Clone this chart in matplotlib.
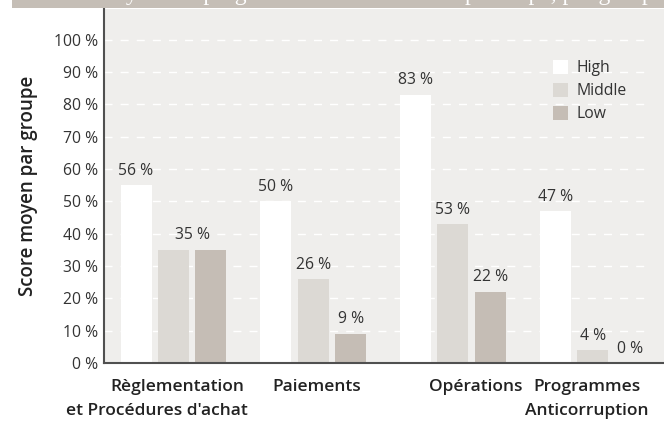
import matplotlib
matplotlib.use("Agg")
from matplotlib import pyplot as plt
from matplotlib.patches import Rectangle

# Chart data (bar heights as drawn, labels as printed)
categories = ["Règlementation\net Procédures d'achat", "Paiements", "Opérations", "Programmes\nAnticorruption"]
groups = ["High", "Middle", "Low"]
high = [55, 50, 83, 47]
middle = [35, 26, 43, 4]
low = [35, 9, 22, 0]
high_labels = ["56 %", "50 %", "83 %", "47 %"]
middle_labels = ["35 %", "26 %", "53 %", "4 %"]
low_labels = ["", "9 %", "22 %", "0 %"]
yticks = [0, 10, 20, 30, 40, 50, 60, 70, 80, 90, 100]
title = "Score moyen des programmes de conformité par étape, par groupe"

# Colors
bg = "#efeeec"
colors = ["#ffffff", "#dcd9d4", "#c5bdb5"]
band = "#c5beb6"
txt = "#333333"

plt.rcParams["font.family"] = ["Open Sans", "DejaVu Sans"]

fig = plt.figure(figsize=(6.64, 4.22), dpi=100)
fig.patch.set_facecolor("white")

# Gray title band at top, mostly cut off
fig.patches.append(Rectangle((12 / 664, 414 / 422), 1, 1, transform=fig.transFigure,
                             facecolor=band, edgecolor="none", zorder=0))
fig.text(1.0, 1.0, title, ha="right", va="baseline", color="white",
         family="Liberation Serif", fontsize=17)

ax = fig.add_axes([104 / 664, 59 / 422, 560 / 664, 354.5 / 422])
ax.set_facecolor(bg)

step = 0.268
width = 0.222
xs = list(range(len(categories)))

# Dashed white gridlines
ax.hlines(yticks[1:], -0.4975, 3.382, colors="white", linewidth=1,
          linestyles=(0, (5.8, 5.8)), zorder=1)

series = [high, middle, low]
for j, (vals, col) in enumerate(zip(series, colors)):
    pos = [x + (j - 1) * step for x in xs]
    ax.bar(pos, vals, width=width, color=col, zorder=2, label=groups[j])

# Value labels
fs = 11.3
for i in xs:
    ax.text(i - step, high[i] + 2, high_labels[i], ha="center", va="bottom",
            fontsize=fs, color=txt)
    if i == 0:
        # single label shared by Middle and Low
        ax.text(i + step / 2, middle[i] + 2, middle_labels[i], ha="center",
                va="bottom", fontsize=fs, color=txt)
    else:
        ax.text(i, middle[i] + 2, middle_labels[i], ha="center", va="bottom",
                fontsize=fs, color=txt)
        ax.text(i + step, low[i] + 2, low_labels[i], ha="center", va="bottom",
                fontsize=fs, color=txt)

ax.set_xlim(-0.4975, 3.511)
ax.set_ylim(0, 109.7)
ax.set_yticks(yticks)
ax.set_yticklabels([f"{v} %" for v in yticks], fontsize=fs, color=txt)
ax.tick_params(axis="y", length=0, pad=4)
ax.set_xticks([])

# Category labels under the axis
line1_x = [0.029, 1.027, 2.165, 2.96]
line2_x = [-0.118, None, None, 2.96]
for i, cat in enumerate(categories):
    lines = cat.split("\n")
    ax.text(line1_x[i], -4.8, lines[0], ha="center", va="top", fontsize=12.5,
            fontweight="semibold", color="#222222")
    if len(lines) > 1:
        ax.text(line2_x[i], -12.5, lines[1], ha="center", va="top",
                fontsize=12.5, fontweight="semibold", color="#222222")

ax.set_ylabel("Score moyen par groupe", fontsize=13.5, fontweight="semibold",
              color="#222222", labelpad=12)

for s in ["top", "right"]:
    ax.spines[s].set_visible(False)
for s in ["left", "bottom"]:
    ax.spines[s].set_color("#505050")
    ax.spines[s].set_linewidth(1.5)

leg = ax.legend(loc="upper left", bbox_to_anchor=(0.776, 0.895), frameon=False,
                fontsize=fs, handlelength=1.0, handleheight=1.0,
                labelspacing=0.42, handletextpad=0.5)
for t in leg.get_texts():
    t.set_color(txt)

fig.savefig("out.png", dpi=100)
